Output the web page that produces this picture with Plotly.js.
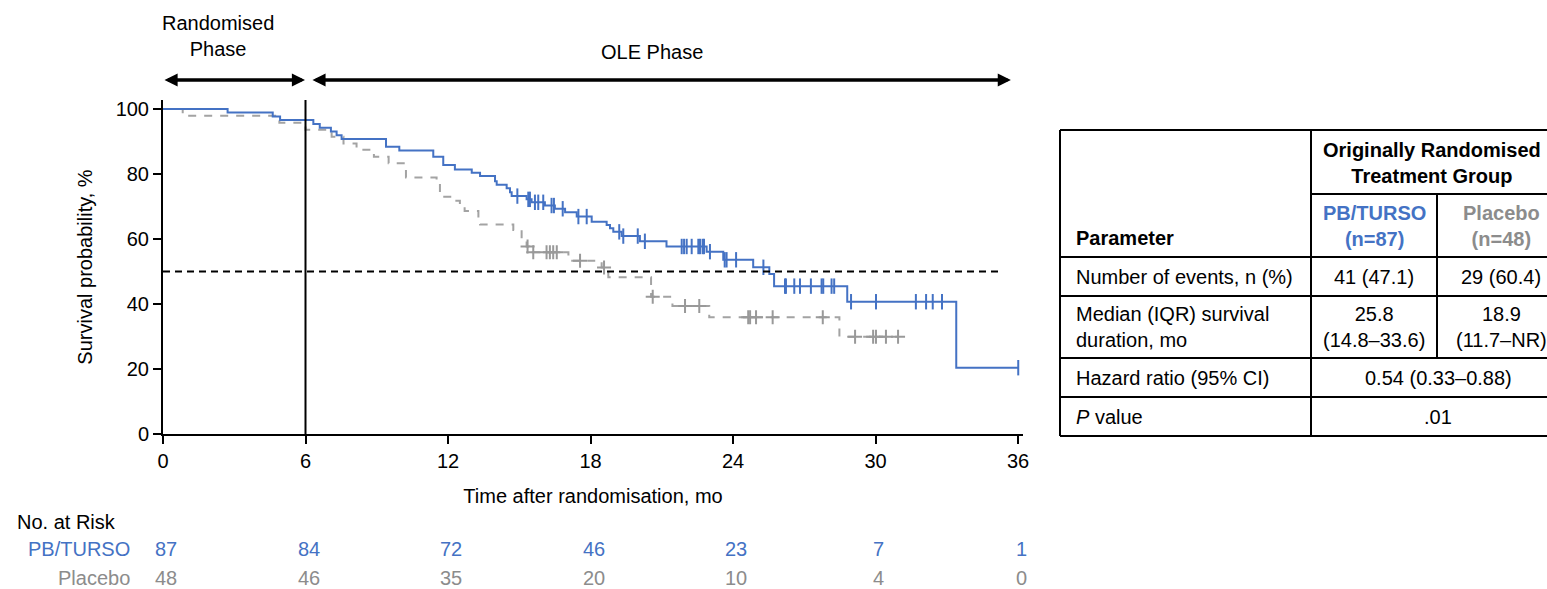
<!DOCTYPE html>
<html>
<head>
<meta charset="utf-8">
<script src="https://cdn.plot.ly/plotly-3.0.1.min.js"></script>
<style>
html,body{margin:0;padding:0;background:#fff;}
#chart{width:1547px;height:589px;}
</style>
</head>
<body>
<div id="chart"></div>
<script>
// ---------------- DATA ----------------
// PB/TURSO Kaplan-Meier steps (time in months, survival %)
const tursoTimes = [0, 2.72, 4.62, 4.93, 6.33, 6.6, 7.07, 7.31, 7.52, 9.39, 9.95, 11.38, 11.8, 12.29, 13.0, 13.35, 13.98, 14.05, 14.47, 14.61, 14.68, 15.31, 15.52, 16.08, 16.5, 16.93, 17.42, 18.05, 18.68, 18.82, 18.96, 19.31, 20.08, 21.2, 22.89, 23.59, 24.85, 25.53, 25.73, 28.81, 33.4];
const tursoSurv  = [100, 98.9, 97.7, 96.6, 95.4, 94.2, 93.1, 91.9, 90.8, 88.4, 87.2, 85.3, 82.8, 81.4, 80.4, 79.4, 77.8, 76.7, 75.6, 74.4, 73.2, 72.2, 71.3, 70.3, 69.3, 68.2, 66.9, 65.3, 64.3, 63.3, 62.2, 60.9, 59.3, 57.7, 56.1, 53.6, 51.3, 49.2, 45.5, 40.7, 20.4];
const tursoCensor = [14.92, 15.38, 15.45, 15.66, 15.8, 16.01, 16.36, 16.46, 16.83, 17.49, 17.84, 19.21, 19.38, 19.99, 20.29, 21.84, 21.94, 22.05, 22.26, 22.54, 22.61, 22.72, 22.78, 23.03, 23.65, 23.73, 24.13, 25.28, 26.19, 26.23, 26.58, 26.82, 27.28, 27.73, 27.8, 28.15, 28.26, 28.97, 30.02, 31.7, 32.13, 32.41, 32.8, 36.01];

// Placebo Kaplan-Meier steps
const placeboTimes = [0, 0.83, 4.9, 6.0, 7.1, 7.6, 8.15, 8.88, 9.5, 10.23, 11.52, 11.66, 12.16, 12.5, 12.7, 13.28, 13.35, 14.75, 15.1, 15.31, 15.42, 17.07, 18.47, 18.75, 20.55, 21.45, 23.0, 28.48];
const placeboSurv  = [100, 97.9, 95.8, 93.6, 91.5, 89.4, 87.5, 85.3, 83.3, 78.9, 76.6, 73.0, 71.8, 69.9, 68.6, 66.1, 64.5, 62.8, 59.7, 57.7, 55.9, 53.3, 51.2, 48.2, 42.2, 39.4, 35.9, 29.9];
const placeboCensor = [15.35, 15.59, 16.15, 16.29, 16.43, 16.58, 17.56, 18.57, 20.62, 21.98, 22.58, 24.64, 24.72, 24.97, 25.67, 27.78, 29.14, 29.9, 30.02, 30.44, 30.95];

// axis ticks
const xTicks = [0, 6, 12, 18, 24, 30, 36];
const yTicks = [0, 20, 40, 60, 80, 100];
const medianLevel = 50;
const phaseBoundary = 6;

// number at risk
const riskTimes   = [0, 6, 12, 18, 24, 30, 36];
const riskTurso   = [87, 84, 72, 46, 23, 7, 1];
const riskPlacebo = [48, 46, 35, 20, 10, 4, 0];

// summary table
const tableParams  = ["Number of events, n (%)", "Median (IQR) survival<br>duration, mo", "Hazard ratio (95% CI)", "<i>P</i> value"];
const tableTurso   = ["41 (47.1)", "25.8<br>(14.8–33.6)"];
const tablePlacebo = ["29 (60.4)", "18.9<br>(11.7–NR)"];
const tableHR      = "0.54 (0.33–0.88)";
const tableP       = ".01";

// ---------------- BUILD ----------------
const BLUE = '#4472C4';
const GREY_LINE = '#a3a3a3';
const GREY_MARK = '#999999';
const GREY_TEXT = '#8c8c8c';
const FONT = 'Liberation Sans, Arial, sans-serif';

function survAt(times, surv, t) {
  let v = surv[0];
  for (let i = 0; i < times.length; i++) { if (times[i] <= t) v = surv[i]; }
  return v;
}
const tursoEnd = tursoCensor[tursoCensor.length - 1];
const placeboEnd = placeboCensor[placeboCensor.length - 1];

const traces = [
  {x: placeboTimes.concat([placeboEnd]), y: placeboSurv.concat([placeboSurv[placeboSurv.length-1]]),
   type: 'scatter', mode: 'lines', line: {shape: 'hv', color: GREY_LINE, width: 2, dash: '8px,8px'}, hoverinfo: 'skip'},
  {x: placeboCensor, y: placeboCensor.map(t => survAt(placeboTimes, placeboSurv, t)),
   type: 'scatter', mode: 'markers', marker: {symbol: 'cross-thin-open', size: 10, color: GREY_MARK, line: {color: GREY_MARK, width: 2}}, hoverinfo: 'skip'},
  {x: tursoTimes.concat([tursoEnd]), y: tursoSurv.concat([tursoSurv[tursoSurv.length-1]]),
   type: 'scatter', mode: 'lines', line: {shape: 'hv', color: BLUE, width: 2}, hoverinfo: 'skip'},
  {x: tursoCensor, y: tursoCensor.map(t => survAt(tursoTimes, tursoSurv, t)),
   type: 'scatter', mode: 'markers', marker: {symbol: 'line-ns-open', size: 11, color: BLUE, line: {color: BLUE, width: 2}}, hoverinfo: 'skip'}
];

// pixel helpers (plot area: left 163, width 860, top 100, height 334)
const L = 163, W = 860, T = 100, H = 334;
const px = p => (p - L) / W;
const py = p => (T + H - p) / H;

const shapes = [
  {type: 'line', xref: 'x', yref: 'y', x0: 0, x1: 35.3, y0: medianLevel, y1: medianLevel, line: {color: '#000', width: 2, dash: '7px,5px'}},
  {type: 'line', xref: 'x', yref: 'paper', x0: phaseBoundary, x1: phaseBoundary, y0: 0, y1: 1, line: {color: '#000', width: 2}}
];
const annotations = [];
function txt(text, x, y, opts) {
  annotations.push(Object.assign({text: text, x: x, y: y, xref: 'paper', yref: 'paper', showarrow: false,
    xanchor: 'center', yanchor: 'middle', font: {family: FONT, size: 20, color: '#000'}}, opts || {}));
}

// phase labels and arrows
txt('Randomised<br>Phase', px(218), py(36));
txt('OLE Phase', px(652), py(52));
function dblArrow(x0, x1, yp) {
  annotations.push({text: '', x: x1, y: py(yp), ax: x0, ay: py(yp), xref: 'x', yref: 'paper', axref: 'x', ayref: 'paper',
    showarrow: true, arrowside: 'end+start', arrowhead: 2, arrowsize: 0.75, arrowwidth: 3.5, arrowcolor: '#000', standoff: 0, startstandoff: 0});
}
dblArrow(0, 5.98, 80);
dblArrow(6.23, 35.7, 80);

// number at risk
txt('No. at Risk', px(15), py(522), {xanchor: 'left'});
txt('PB/TURSO', px(132), py(549), {xanchor: 'right', font: {family: FONT, size: 20, color: BLUE}});
txt('Placebo', px(132), py(578), {xanchor: 'right', font: {family: FONT, size: 20, color: GREY_TEXT}});
riskTimes.forEach((t, i) => {
  annotations.push({text: String(riskTurso[i]), x: t, y: py(549), xref: 'x', yref: 'paper', showarrow: false, xanchor: 'center', yanchor: 'middle', xshift: 3,
    font: {family: FONT, size: 20, color: BLUE}});
  annotations.push({text: String(riskPlacebo[i]), x: t, y: py(578), xref: 'x', yref: 'paper', showarrow: false, xanchor: 'center', yanchor: 'middle', xshift: 3,
    font: {family: FONT, size: 20, color: GREY_TEXT}});
});

// summary table grid
const tL = 1060, tC1 = 1311, tC2 = 1437, tR = 1565;
const rows = [130, 194, 257, 296, 358, 397, 436];
function hline(x0, x1, y) { shapes.push({type: 'line', xref: 'paper', yref: 'paper', x0: px(x0), x1: px(x1), y0: py(y), y1: py(y), line: {color: '#000', width: 2}}); }
function vline(x, y0, y1) { shapes.push({type: 'line', xref: 'paper', yref: 'paper', x0: px(x), x1: px(x), y0: py(y0), y1: py(y1), line: {color: '#000', width: 2}}); }
hline(tL, tR, rows[0]); hline(tC1, tR, rows[1]);
for (let i = 2; i < rows.length; i++) hline(tL, tR, rows[i]);
vline(tL, rows[0], rows[6]); vline(tC1, rows[0], rows[6]); vline(tC2, rows[1], rows[4]);

const c1 = (tC1 + tC2) / 2, c2 = (tC2 + tR) / 2, c12 = (tC1 + tR) / 2;
const bold = s => '<b>' + s + '</b>';
txt(bold('Originally Randomised<br>Treatment Group'), px(1432), py(163));
txt(bold('Parameter'), px(1074), py(238), {xanchor: 'left'});
txt(bold('PB/TURSO<br>(n=' + riskTurso[0] + ')'), px(c1), py(226), {font: {family: FONT, size: 20, color: BLUE}});
txt(bold('Placebo<br>(n=' + riskPlacebo[0] + ')'), px(c2), py(226), {font: {family: FONT, size: 20, color: GREY_TEXT}});
const rowMid = [277, 327, 378, 417];
tableParams.forEach((p, i) => txt(p, px(1074), py(rowMid[i]), {xanchor: 'left', align: 'left'}));
tableTurso.forEach((v, i) => txt(v, px(c1), py(rowMid[i])));
tablePlacebo.forEach((v, i) => txt(v, px(c2), py(rowMid[i])));
txt(tableHR, px(c12), py(rowMid[2]));
txt(tableP, px(c12), py(rowMid[3]));

const layout = {
  width: 1547, height: 589,
  margin: {l: L, r: 1547 - L - W, t: T, b: 589 - T - H, pad: 0},
  paper_bgcolor: '#fff', plot_bgcolor: '#fff',
  showlegend: false,
  font: {family: FONT, size: 20, color: '#000'},
  xaxis: {range: [0, W / 23.75], tickvals: xTicks, ticktext: xTicks.map(String), ticks: 'outside', ticklen: 8, tickwidth: 2, tickcolor: '#000',
          showline: true, linewidth: 2, linecolor: '#000', showgrid: false, zeroline: false, fixedrange: true,
          tickfont: {family: FONT, size: 20, color: '#000'},
          title: {text: 'Time after randomisation, mo', font: {family: FONT, size: 20, color: '#000'}, standoff: 18}},
  yaxis: {range: [0, H / 3.25], tickvals: yTicks, ticktext: yTicks.map(String), ticks: 'outside', ticklen: 8, tickwidth: 2, tickcolor: '#000',
          showline: true, linewidth: 2, linecolor: '#000', showgrid: false, zeroline: false, fixedrange: true,
          tickfont: {family: FONT, size: 20, color: '#000'},
          title: {text: 'Survival probability, %', font: {family: FONT, size: 20, color: '#000'}, standoff: 18}},
  shapes: shapes,
  annotations: annotations
};

Plotly.newPlot('chart', traces, layout, {displayModeBar: false, staticPlot: true});
</script>
</body>
</html>
